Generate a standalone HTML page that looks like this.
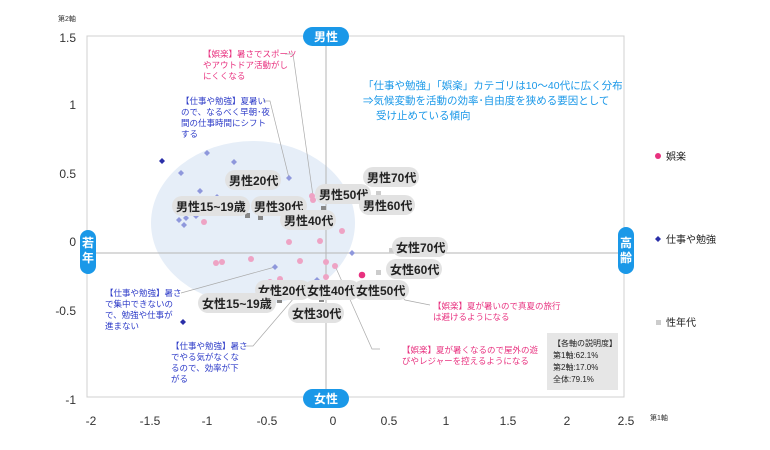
<!DOCTYPE html>
<html><head><meta charset="utf-8"><style>
body{margin:0;background:#fff;width:770px;height:445px;overflow:hidden;font-family:"Liberation Sans","Noto Sans CJK JP",sans-serif}
svg text{font-family:"Liberation Sans","Noto Sans CJK JP",sans-serif}
</style></head><body>
<svg width="770" height="445" viewBox="0 0 770 445" xmlns="http://www.w3.org/2000/svg">
<rect x="87" y="36" width="537" height="361" fill="none" stroke="#d0d0d0" stroke-width="1"/>
<ellipse cx="253" cy="223" rx="102" ry="82" fill="#e6eef8"/>
<line x1="87" y1="253" x2="624" y2="253" stroke="#b5b5b5"/>
<line x1="326" y1="36" x2="326" y2="397" stroke="#b5b5b5"/>
<g font-size="12" fill="#333" text-anchor="middle">
<text x="91" y="425">-2</text><text x="150" y="425">-1.5</text><text x="207" y="425">-1</text><text x="267" y="425">-0.5</text><text x="333" y="425">0</text><text x="389" y="425">0.5</text><text x="446" y="425">1</text><text x="508" y="425">1.5</text><text x="567" y="425">2</text><text x="626" y="425">2.5</text>
</g>
<g font-size="12" fill="#333" text-anchor="end">
<text x="76" y="42">1.5</text><text x="76" y="109">1</text><text x="76" y="178">0.5</text><text x="76" y="246">0</text><text x="76" y="315">-0.5</text><text x="76" y="404">-1</text>
</g>
<text x="58" y="21" font-size="7" fill="#333">第2軸</text>
<text x="650" y="420" font-size="7" fill="#333">第1軸</text>
<!-- axis pills -->
<rect x="303" y="27" width="46" height="19" rx="9.5" fill="#1a98e8"/><text x="326" y="41" font-size="12" fill="#fff" text-anchor="middle" font-weight="bold">男性</text>
<rect x="303" y="389" width="46" height="19" rx="9.5" fill="#1a98e8"/><text x="326" y="403" font-size="12" fill="#fff" text-anchor="middle" font-weight="bold">女性</text>
<rect x="80" y="230" width="16" height="44" rx="8" fill="#1a98e8"/><text x="88" y="247" font-size="12" fill="#fff" text-anchor="middle" font-weight="bold">若</text><text x="88" y="262" font-size="12" fill="#fff" text-anchor="middle" font-weight="bold">年</text>
<rect x="618" y="227" width="16" height="47" rx="8" fill="#1a98e8"/><text x="626" y="247" font-size="12" fill="#fff" text-anchor="middle" font-weight="bold">高</text><text x="626" y="262" font-size="12" fill="#fff" text-anchor="middle" font-weight="bold">齢</text>
<!-- leader lines -->
<g stroke="#aaa" stroke-width="0.7" fill="none">
<polyline points="285,54 293,54 313,196"/>
<polyline points="263,101 270,101 289,178"/>
<polyline points="181,293 275,267"/>
<polyline points="246,346 253,346 300,291"/>
<polyline points="380,349 372,349 336,268"/>
<polyline points="430,305 405,300 395,290"/>
</g>
<!-- pink dots -->
<g fill="#eea3c4">
<circle cx="204" cy="222" r="3"/><circle cx="262" cy="206" r="3"/><circle cx="313" cy="200" r="3"/><circle cx="312" cy="196" r="3"/><circle cx="342" cy="231" r="3"/><circle cx="289" cy="242" r="3"/><circle cx="320" cy="241" r="3"/><circle cx="216" cy="263" r="3"/><circle cx="222" cy="262" r="3"/><circle cx="251" cy="259" r="3"/><circle cx="300" cy="261" r="3"/><circle cx="326" cy="262" r="3"/><circle cx="335" cy="266" r="3"/><circle cx="280" cy="279" r="3"/><circle cx="326" cy="277" r="3"/><circle cx="270" cy="282" r="3"/>
</g>
<circle cx="362" cy="275" r="3.3" fill="#e8317f"/>
<!-- blue diamonds -->
<g fill="#8f98dc">
<path d="M207,150l3,3l-3,3l-3,-3z"/><path d="M234,159l3,3l-3,3l-3,-3z"/><path d="M181,170l3,3l-3,3l-3,-3z"/><path d="M289,175l3,3l-3,3l-3,-3z"/><path d="M200,188l3,3l-3,3l-3,-3z"/><path d="M217,194l3,3l-3,3l-3,-3z"/><path d="M179,217l3,3l-3,3l-3,-3z"/><path d="M186,215l3,3l-3,3l-3,-3z"/><path d="M196,213l3,3l-3,3l-3,-3z"/><path d="M184,222l3,3l-3,3l-3,-3z"/><path d="M275,264l3,3l-3,3l-3,-3z"/><path d="M352,250l3,3l-3,3l-3,-3z"/><path d="M317,277l3,3l-3,3l-3,-3z"/>
</g>
<path d="M162,158l3,3l-3,3l-3,-3z" fill="#2a2fa8"/><path d="M183,319l3,3l-3,3l-3,-3z" fill="#2a2fa8"/>
<!-- gray squares -->
<g fill="#888">
<rect x="245" y="213" width="5" height="5"/><rect x="258" y="215" width="5" height="5"/><rect x="321" y="206" width="5" height="5"/><rect x="277" y="298" width="5" height="5"/><rect x="319" y="297" width="5" height="5"/>
</g>
<g fill="#ccc"><rect x="376" y="191" width="5" height="5"/><rect x="376" y="270" width="5" height="5"/><rect x="389" y="248" width="5" height="5"/><rect x="353" y="290" width="5" height="5"/></g>
<!-- group labels -->
<g font-size="12" fill="#222" font-weight="bold">
<rect x="225" y="170" width="56" height="20" rx="10" fill="#e2e2e2"/><text x="229" y="185">男性20代</text>
<rect x="172" y="196" width="78" height="20" rx="10" fill="#e2e2e2"/><text x="176" y="211">男性15~19歳</text>
<rect x="251" y="196" width="56" height="20" rx="10" fill="#e2e2e2"/><text x="254" y="211">男性30代</text>
<rect x="280" y="210" width="56" height="20" rx="10" fill="#e2e2e2"/><text x="284" y="225">男性40代</text>
<rect x="315" y="184" width="56" height="20" rx="10" fill="#e2e2e2"/><text x="319" y="199">男性50代</text>
<rect x="363" y="167" width="56" height="20" rx="10" fill="#e2e2e2"/><text x="367" y="182">男性70代</text>
<rect x="359" y="195" width="56" height="20" rx="10" fill="#e2e2e2"/><text x="363" y="210">男性60代</text>
<rect x="392" y="237" width="56" height="20" rx="10" fill="#e2e2e2"/><text x="396" y="252">女性70代</text>
<rect x="386" y="259" width="56" height="20" rx="10" fill="#e2e2e2"/><text x="390" y="274">女性60代</text>
<rect x="255" y="280" width="56" height="20" rx="10" fill="#e2e2e2"/><text x="258" y="295">女性20代</text>
<rect x="304" y="280" width="56" height="20" rx="10" fill="#e2e2e2"/><text x="307" y="295">女性40代</text>
<rect x="353" y="280" width="56" height="20" rx="10" fill="#e2e2e2"/><text x="356" y="295">女性50代</text>
<rect x="198" y="293" width="78" height="20" rx="10" fill="#e2e2e2"/><text x="202" y="308">女性15~19歳</text>
<rect x="288" y="303" width="56" height="20" rx="10" fill="#e2e2e2"/><text x="292" y="318">女性30代</text>
</g>
<!-- annotations -->
<g font-size="8.5" fill="#e8317f">
<text x="203" y="57">【娯楽】暑さでスポーツ</text><text x="203" y="68">やアウトドア活動がし</text><text x="203" y="79">にくくなる</text>
<text x="433" y="309">【娯楽】夏が暑いので真夏の旅行</text><text x="433" y="320">は避けるようになる</text>
<text x="402" y="353">【娯楽】夏が暑くなるので屋外の遊</text><text x="402" y="364">びやレジャーを控えるようになる</text>
</g>
<g font-size="8.5" fill="#2d3bc8">
<text x="181" y="104">【仕事や勉強】夏暑い</text><text x="181" y="115">ので、なるべく早朝･夜</text><text x="181" y="126">間の仕事時間にシフト</text><text x="181" y="137">する</text>
<text x="105" y="296">【仕事や勉強】暑さ</text><text x="105" y="307">で集中できないの</text><text x="105" y="318">で、勉強や仕事が</text><text x="105" y="329">進まない</text>
<text x="171" y="349">【仕事や勉強】暑さ</text><text x="171" y="360">でやる気がなくな</text><text x="171" y="371">るので、効率が下</text><text x="171" y="382">がる</text>
</g>
<g font-size="10.5" fill="#1a98e8">
<text x="363" y="89">「仕事や勉強」「娯楽」カテゴリは10～40代に広く分布</text>
<text x="363" y="104">⇒気候変動を活動の効率･自由度を狭める要因として</text>
<text x="376" y="119">受け止めている傾向</text>
</g>
<rect x="547" y="333" width="71" height="57" fill="#e6e6e6"/>
<g font-size="8" fill="#222"><text x="553" y="346">【各軸の説明度】</text><text x="553" y="358">第1軸:62.1%</text><text x="553" y="370">第2軸:17.0%</text><text x="553" y="382">全体:79.1%</text></g>
<!-- legend -->
<circle cx="658" cy="156" r="3" fill="#e8317f"/><text x="666" y="160" font-size="10" fill="#222">娯楽</text>
<path d="M658,236l3,3l-3,3l-3,-3z" fill="#2a2fa8"/><text x="666" y="243" font-size="10" fill="#222">仕事や勉強</text>
<rect x="656" y="320" width="5" height="5" fill="#ccc"/><text x="666" y="326" font-size="10" fill="#222">性年代</text>
</svg>
</body></html>
